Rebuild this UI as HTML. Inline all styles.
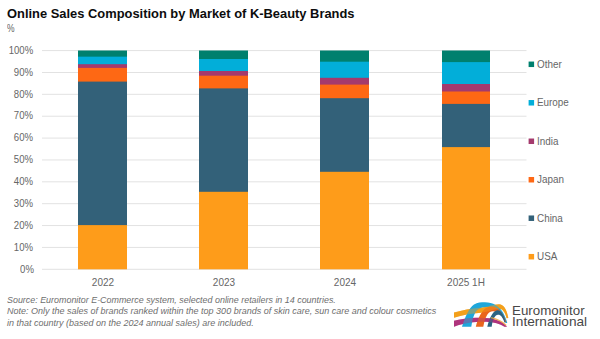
<!DOCTYPE html>
<html><head><meta charset="utf-8">
<style>
html,body{margin:0;padding:0;background:#fff;}
body{width:600px;height:339px;position:relative;overflow:hidden;font-family:"Liberation Sans",sans-serif;}
.t{position:absolute;white-space:nowrap;line-height:1;}
#title{left:7px;top:6.8px;font-size:13.4px;transform:scaleX(0.963);font-weight:bold;color:#0d0d0d;transform-origin:0 0;}
#pct{left:7.2px;top:24.3px;font-size:10px;color:#666;transform:scaleX(0.85);transform-origin:0 0;}
.yl{position:absolute;right:566.5px;font-size:11px;color:#666;transform:scaleX(0.87);transform-origin:100% 0;line-height:1;white-space:nowrap;}
.xl{position:absolute;font-size:11px;color:#666;transform:scaleX(0.91);line-height:1;white-space:nowrap;width:100px;text-align:center;}
.lg{position:absolute;left:537px;font-size:10.8px;color:#666;transform:scaleX(0.915);transform-origin:0 0;line-height:1;white-space:nowrap;}
.fn{position:absolute;left:7px;font-size:9px;font-style:italic;color:#6e6e6e;line-height:1;white-space:nowrap;transform-origin:0 0;}
.logo{position:absolute;left:512.6px;font-size:13px;color:#484848;line-height:1;white-space:nowrap;transform-origin:0 0;}
</style></head><body>
<div class="t" id="title">Online Sales Composition by Market of K-Beauty Brands</div>
<div class="t" id="pct">%</div>

<svg width="600" height="339" style="position:absolute;left:0;top:0">
  <g stroke="#e2e2e2" stroke-width="1">
    <line x1="42" x2="526.5" y1="50.60" y2="50.60"/>
    <line x1="42" x2="526.5" y1="72.47" y2="72.47"/>
    <line x1="42" x2="526.5" y1="94.34" y2="94.34"/>
    <line x1="42" x2="526.5" y1="116.21" y2="116.21"/>
    <line x1="42" x2="526.5" y1="138.08" y2="138.08"/>
    <line x1="42" x2="526.5" y1="159.95" y2="159.95"/>
    <line x1="42" x2="526.5" y1="181.82" y2="181.82"/>
    <line x1="42" x2="526.5" y1="203.69" y2="203.69"/>
    <line x1="42" x2="526.5" y1="225.56" y2="225.56"/>
    <line x1="42" x2="526.5" y1="247.43" y2="247.43"/>
    <line x1="42" x2="526.5" y1="269.30" y2="269.30"/>
  </g>
  <!-- bars -->
  <g>
    <rect x="78" width="49" y="50.5" height="218.50" fill="#00806e"/>
    <rect x="78" width="49" y="56.66" height="212.34" fill="#02aed9"/>
    <rect x="78" width="49" y="64.2" height="204.80" fill="#a43a6d"/>
    <rect x="78" width="49" y="67.9" height="201.10" fill="#fe6814"/>
    <rect x="78" width="49" y="81.6" height="187.40" fill="#336179"/>
    <rect x="78" width="49" y="225.1" height="44.20" fill="#fe9c1a"/>
  </g>
  <g>
    <rect x="199" width="49" y="50.5" height="218.50" fill="#00806e"/>
    <rect x="199" width="49" y="59.0" height="210.00" fill="#02aed9"/>
    <rect x="199" width="49" y="71.0" height="198.00" fill="#a43a6d"/>
    <rect x="199" width="49" y="75.7" height="193.30" fill="#fe6814"/>
    <rect x="199" width="49" y="88.4" height="180.60" fill="#336179"/>
    <rect x="199" width="49" y="191.8" height="77.50" fill="#fe9c1a"/>
  </g>
  <g>
    <rect x="320" width="49" y="50.5" height="218.50" fill="#00806e"/>
    <rect x="320" width="49" y="61.7" height="207.30" fill="#02aed9"/>
    <rect x="320" width="49" y="77.8" height="191.20" fill="#a43a6d"/>
    <rect x="320" width="49" y="84.6" height="184.40" fill="#fe6814"/>
    <rect x="320" width="49" y="98.2" height="170.80" fill="#336179"/>
    <rect x="320" width="49" y="171.8" height="97.50" fill="#fe9c1a"/>
  </g>
  <g>
    <rect x="442" width="48" y="50.5" height="218.50" fill="#00806e"/>
    <rect x="442" width="48" y="62.1" height="206.90" fill="#02aed9"/>
    <rect x="442" width="48" y="84.0" height="185.00" fill="#a43a6d"/>
    <rect x="442" width="48" y="91.5" height="177.50" fill="#fe6814"/>
    <rect x="442" width="48" y="103.9" height="165.10" fill="#336179"/>
    <rect x="442" width="48" y="147.1" height="122.20" fill="#fe9c1a"/>
  </g>
  <!-- legend markers -->
  <rect x="528.6" y="61.55" width="5.5" height="5.5" fill="#00806e"/>
  <rect x="528.6" y="100.03" width="5.5" height="5.5" fill="#02aed9"/>
  <rect x="528.6" y="138.51" width="5.5" height="5.5" fill="#a43a6d"/>
  <rect x="528.6" y="176.99" width="5.5" height="5.5" fill="#fe6814"/>
  <rect x="528.6" y="215.47" width="5.5" height="5.5" fill="#336179"/>
  <rect x="528.6" y="253.95" width="5.5" height="5.5" fill="#fe9c1a"/>

  <!-- logo -->
  <g>
    <path fill="#f3a01c" d="M454,312.4 C462,310.4 471,308.6 480,307.8 C487,307.2 493,304.2 499,304.2 C503.5,304.2 506.8,309 508.3,318 L506.6,318.3 C505,312 502.5,308.8 499,308.8 C494,308.8 489,312 481,312.8 C471,313.6 462,315 454,317.8 Z"/>
    <path fill="#b0357d" d="M454,320.8 C460,319.2 466,318.3 472,318 C482,317.5 492,318 498,320.5 C502,322 505,324.5 507,326.8 L504.5,326.8 C500,323.8 494,322 486,321.8 C476,321.6 466,322.5 454,326.7 Z"/>
    <path fill="#1ea7db" d="M462,326.7 C465,317 469,308 474,304.5 C477.5,302.5 481,302.3 485,302.3 C493,302.4 499,306 503,312.5 C505,316 506.5,320 507.3,323 L505.8,323 C504,318 501.5,313.5 498,310.5 C494.5,307.5 490,306.8 486,307 C481,307.2 477,309.5 475,313 C473,317 472,322 471.3,326.7 Z"/>
    <path fill="#ea661d" d="M475.8,326.7 C478,318 481.5,311 486,308 C488,306.8 490,306.3 492,306.4 C498,306.8 503,312 506.3,322 L505,322 C502,315 498,311.5 493,311.3 C489,311.2 485.5,315 483.3,326.7 Z"/>
    <path fill="#2b6483" d="M487.3,326.7 C489.5,318 492.5,311.5 497,310.3 C501,309.6 504,315 505.8,322.5 L504.5,322.5 C502.5,317 500.5,314.6 498,314.8 C494.5,315.2 492.5,320 491.7,326.7 Z"/>
    <path fill="#f3a01c" opacity="0.42" d="M454,312.4 C462,310.4 471,308.6 480,307.8 C487,307.2 493,304.2 499,304.2 C503.5,304.2 506.8,309 508.3,318 L506.6,318.3 C505,312 502.5,308.8 499,308.8 C494,308.8 489,312 481,312.8 C471,313.6 462,315 454,317.8 Z"/>
    <path fill="#b0357d" opacity="0.4" d="M454,320.8 C460,319.2 466,318.3 472,318 C482,317.5 492,318 498,320.5 C502,322 505,324.5 507,326.8 L504.5,326.8 C500,323.8 494,322 486,321.8 C476,321.6 466,322.5 454,326.7 Z"/>
    <path fill="none" stroke="#f0a53a" stroke-width="1.1" opacity="0.85" d="M491,317.6 C497,318.8 502,321.2 506.3,325.3"/>
  </g>
</svg>

<div class="yl" style="top:44.80px">100%</div>
<div class="yl" style="top:66.67px">90%</div>
<div class="yl" style="top:88.54px">80%</div>
<div class="yl" style="top:110.41px">70%</div>
<div class="yl" style="top:132.28px">60%</div>
<div class="yl" style="top:154.15px">50%</div>
<div class="yl" style="top:176.02px">40%</div>
<div class="yl" style="top:197.89px">30%</div>
<div class="yl" style="top:219.76px">20%</div>
<div class="yl" style="top:241.63px">10%</div>
<div class="yl" style="top:263.50px">0%</div>

<div class="xl" style="left:53px;top:276.6px">2022</div>
<div class="xl" style="left:174.1px;top:276.6px">2023</div>
<div class="xl" style="left:295.2px;top:276.6px">2024</div>
<div class="xl" style="left:416.4px;top:276.6px">2025 1H</div>

<div class="lg" style="top:58.70px">Other</div>
<div class="lg" style="top:97.18px">Europe</div>
<div class="lg" style="top:135.66px">India</div>
<div class="lg" style="top:174.14px">Japan</div>
<div class="lg" style="top:212.62px">China</div>
<div class="lg" style="top:251.10px">USA</div>

<div class="fn" style="top:295.8px;transform:scaleX(0.99)">Source: Euromonitor E-Commerce system, selected online retailers in 14 countries.</div>
<div class="fn" style="top:307.3px">Note: Only the sales of brands ranked within the top 300 brands of skin care, sun care and colour cosmetics</div>
<div class="fn" style="top:318.8px">in that country (based on the 2024 annual sales) are included.</div>

<div class="logo" style="top:303.6px;left:512.3px;transform:scaleX(1.025)">Euromonitor</div>
<div class="logo" style="top:315.2px;left:512.3px;transform:scaleX(1.05)">International</div>
</body></html>
